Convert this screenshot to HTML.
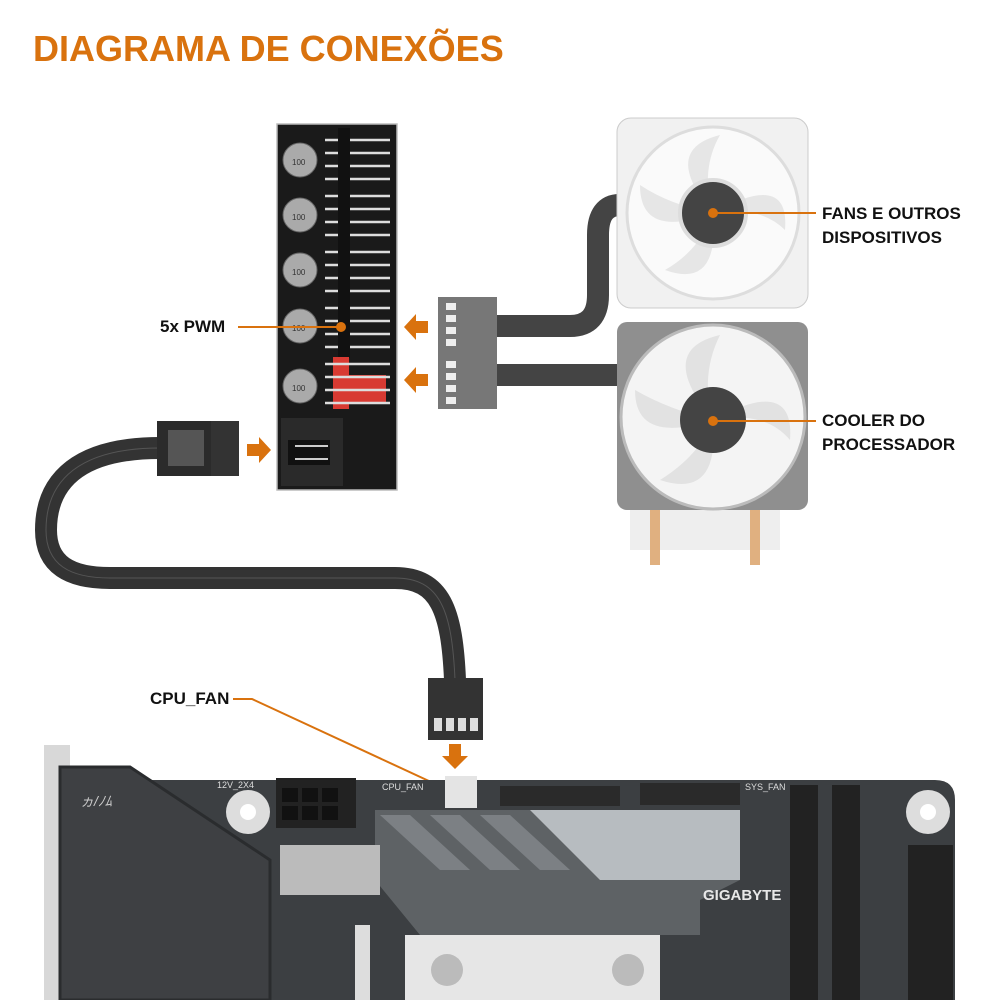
<!DOCTYPE html>
<html><head><meta charset="utf-8"><style>
html,body{margin:0;padding:0;background:#fff;}
svg{display:block;font-family:"Liberation Sans",sans-serif;}
</style></head><body>
<svg width="1000" height="1000" viewBox="0 0 1000 1000" xmlns="http://www.w3.org/2000/svg">
<rect width="1000" height="1000" fill="#fff"/>
<text x="33" y="61" font-size="36" font-weight="bold" fill="#d9720e">DIAGRAMA DE CONEXÕES</text>

<!-- cable -->
<path d="M160,448 C80,448 46,480 46,530 C46,565 70,578 110,578 L395,578 C440,578 452,610 455,680" fill="none" stroke="#333" stroke-width="22"/>
<path d="M160,448 C80,448 46,480 46,530 C46,565 70,578 110,578 L395,578 C440,578 452,610 455,680" fill="none" stroke="#555" stroke-width="1"/>
<rect x="157" y="421" width="54" height="55" fill="#2b2b2b"/>
<rect x="168" y="430" width="36" height="36" fill="#555"/>
<rect x="211" y="421" width="28" height="55" fill="#333"/>
<rect x="428" y="678" width="55" height="62" fill="#333"/>
<g fill="#ddd"><rect x="434" y="718" width="8" height="13"/><rect x="446" y="718" width="8" height="13"/><rect x="458" y="718" width="8" height="13"/><rect x="470" y="718" width="8" height="13"/></g>

<!-- hub -->
<rect x="277" y="124" width="120" height="366" fill="#1a1a1a" stroke="#bbb" stroke-width="1.5"/>
<g fill="#aaa" stroke="#666">
<circle cx="300" cy="160" r="17"/><circle cx="300" cy="215" r="17"/><circle cx="300" cy="270" r="17"/><circle cx="300" cy="326" r="17"/><circle cx="300" cy="386" r="17"/>
</g>
<g fill="#333" font-size="8"><text x="292" y="165">100</text><text x="292" y="220">100</text><text x="292" y="275">100</text><text x="292" y="331">100</text><text x="292" y="391">100</text></g>
<g stroke="#ddd" stroke-width="2.5">
<line x1="325" y1="140" x2="390" y2="140"/><line x1="325" y1="153" x2="390" y2="153"/><line x1="325" y1="166" x2="390" y2="166"/><line x1="325" y1="179" x2="390" y2="179"/>
<line x1="325" y1="196" x2="390" y2="196"/><line x1="325" y1="209" x2="390" y2="209"/><line x1="325" y1="222" x2="390" y2="222"/><line x1="325" y1="235" x2="390" y2="235"/>
<line x1="325" y1="252" x2="390" y2="252"/><line x1="325" y1="265" x2="390" y2="265"/><line x1="325" y1="278" x2="390" y2="278"/><line x1="325" y1="291" x2="390" y2="291"/>
<line x1="325" y1="308" x2="390" y2="308"/><line x1="325" y1="321" x2="390" y2="321"/><line x1="325" y1="334" x2="390" y2="334"/><line x1="325" y1="347" x2="390" y2="347"/>
</g>
<rect x="338" y="128" width="12" height="230" fill="#111"/>
<rect x="333" y="357" width="16" height="52" fill="#d83a32"/>
<rect x="349" y="375" width="37" height="29" fill="#d83a32"/>
<g stroke="#ddd" stroke-width="2.5"><line x1="325" y1="364" x2="390" y2="364"/><line x1="325" y1="377" x2="390" y2="377"/><line x1="325" y1="390" x2="390" y2="390"/><line x1="325" y1="403" x2="390" y2="403"/></g>
<rect x="281" y="418" width="62" height="68" fill="#2a2a2a"/>
<rect x="288" y="440" width="42" height="25" fill="#111"/>
<line x1="295" y1="446" x2="328" y2="446" stroke="#ccc" stroke-width="2"/><line x1="295" y1="459" x2="328" y2="459" stroke="#ccc" stroke-width="2"/>

<!-- arrows -->
<g fill="#d9720e">
<path d="M247,444 h12 v-7 l12,13 -12,13 v-7 h-12z"/>
<path d="M428,321 h-12 v-7 l-12,13 12,13 v-7 h12z"/>
<path d="M428,374 h-12 v-7 l-12,13 12,13 v-7 h12z"/>
<path d="M449,744 v12 h-7 l13,13 13,-13 h-7 v-12z"/>
</g>

<!-- fan cables -->
<path d="M497,326 L570,326 Q598,326 598,295 L598,235 Q598,205 620,205" fill="none" stroke="#444" stroke-width="22"/>
<rect x="497" y="364" width="120" height="22" fill="#444"/>
<rect x="438" y="297" width="59" height="59" fill="#777"/>
<rect x="438" y="356" width="59" height="53" fill="#777"/>
<g fill="#eee"><rect x="446" y="303" width="10" height="7"/><rect x="446" y="315" width="10" height="7"/><rect x="446" y="327" width="10" height="7"/><rect x="446" y="339" width="10" height="7"/><rect x="446" y="361" width="10" height="7"/><rect x="446" y="373" width="10" height="7"/><rect x="446" y="385" width="10" height="7"/><rect x="446" y="397" width="10" height="7"/></g>

<!-- top fan -->
<rect x="617" y="118" width="191" height="190" rx="14" fill="#f1f1f1" stroke="#ccc"/>
<circle cx="713" cy="213" r="86" fill="#fafafa" stroke="#ddd" stroke-width="3"/>
<g fill="#e6e6e6"><path d="M713,213 Q660,150 720,135 Q700,170 713,213z"/><path d="M713,213 Q790,170 785,230 Q760,205 713,213z"/><path d="M713,213 Q720,290 665,270 Q700,250 713,213z"/><path d="M713,213 Q640,240 640,185 Q670,205 713,213z"/></g>
<circle cx="713" cy="213" r="33" fill="#444" stroke="#ddd" stroke-width="4"/>
<!-- cooler -->
<rect x="630" y="505" width="150" height="45" fill="#eee"/>
<rect x="650" y="505" width="10" height="60" fill="#e0b080"/><rect x="750" y="505" width="10" height="60" fill="#e0b080"/>
<rect x="617" y="322" width="191" height="188" rx="10" fill="#8f8f8f"/>
<circle cx="713" cy="417" r="92" fill="#f4f4f4" stroke="#bbb" stroke-width="3"/>
<g fill="#e2e2e2"><path d="M713,420 Q655,350 720,335 Q700,375 713,420z"/><path d="M713,420 Q795,375 790,440 Q765,410 713,420z"/><path d="M713,420 Q720,500 660,480 Q700,455 713,420z"/><path d="M713,420 Q635,445 635,390 Q670,410 713,420z"/></g>
<circle cx="713" cy="420" r="33" fill="#444"/>

<!-- labels -->
<g fill="#d9720e" stroke="#d9720e" stroke-width="2">
<line x1="713" y1="213" x2="816" y2="213"/><circle cx="713" cy="213" r="4"/>
<line x1="713" y1="421" x2="816" y2="421"/><circle cx="713" cy="421" r="4"/>
<line x1="238" y1="327" x2="341" y2="327"/><circle cx="341" cy="327" r="4"/>
<polyline points="233,699 252,699 444,788" fill="none"/><circle cx="444" cy="788" r="3"/>
</g>
<g font-size="17" font-weight="bold" fill="#111">
<text x="822" y="219">FANS E OUTROS</text><text x="822" y="243">DISPOSITIVOS</text>
<text x="822" y="426">COOLER DO</text><text x="822" y="450">PROCESSADOR</text>
<text x="160" y="332">5x PWM</text>
<text x="150" y="704">CPU_FAN</text>
</g>

<!-- motherboard -->
<path d="M50,780 L935,780 Q955,780 955,800 L955,1000 L50,1000 Z" fill="#3c3f42"/>
<rect x="44" y="745" width="26" height="255" fill="#d8d8d8"/>
<path d="M60,767 L130,767 L270,860 L270,1000 L60,1000 Z" fill="#3e4043" stroke="#2a2c2e" stroke-width="3"/>
<text x="80" y="806" font-size="14" fill="#ccc" font-style="italic">ヵ/ﾉﾑ</text>
<rect x="276" y="778" width="80" height="50" fill="#222"/>
<g fill="#111"><rect x="282" y="788" width="16" height="14"/><rect x="302" y="788" width="16" height="14"/><rect x="322" y="788" width="16" height="14"/><rect x="282" y="806" width="16" height="14"/><rect x="302" y="806" width="16" height="14"/><rect x="322" y="806" width="16" height="14"/></g>
<circle cx="248" cy="812" r="22" fill="#ddd"/><circle cx="248" cy="812" r="8" fill="#fff"/>
<circle cx="928" cy="812" r="22" fill="#ddd"/><circle cx="928" cy="812" r="8" fill="#fff"/>
<text x="217" y="788" font-size="9" fill="#ddd">12V_2X4</text>
<text x="382" y="790" font-size="9" fill="#ddd">CPU_FAN</text>
<text x="745" y="790" font-size="9" fill="#ddd">SYS_FAN</text>
<rect x="445" y="776" width="32" height="32" fill="#e4e4e4"/>
<rect x="500" y="786" width="120" height="20" fill="#2a2a2a"/>
<rect x="640" y="783" width="100" height="22" fill="#2a2a2a"/>
<path d="M375,810 L740,810 L740,880 L700,900 L700,935 L420,935 L375,880 Z" fill="#5e6265"/>
<g fill="#7c8084"><path d="M380,815 L410,815 L470,870 L440,870z"/><path d="M430,815 L460,815 L520,870 L490,870z"/><path d="M480,815 L510,815 L570,870 L540,870z"/></g>
<path d="M530,810 L740,810 L740,880 L600,880 Z" fill="#b7bcc0"/>
<rect x="280" y="845" width="100" height="50" fill="#bbb"/>
<rect x="405" y="935" width="255" height="65" fill="#e6e6e6"/>
<circle cx="447" cy="970" r="16" fill="#bbb"/><circle cx="628" cy="970" r="16" fill="#bbb"/>
<text x="703" y="900" font-size="15" font-weight="bold" fill="#e8e8e8">GIGABYTE</text>
<rect x="790" y="785" width="28" height="215" fill="#222"/><rect x="832" y="785" width="28" height="215" fill="#222"/>
<rect x="908" y="845" width="45" height="155" fill="#222"/>
<rect x="355" y="925" width="15" height="75" fill="#ddd"/>
</svg>
</body></html>
